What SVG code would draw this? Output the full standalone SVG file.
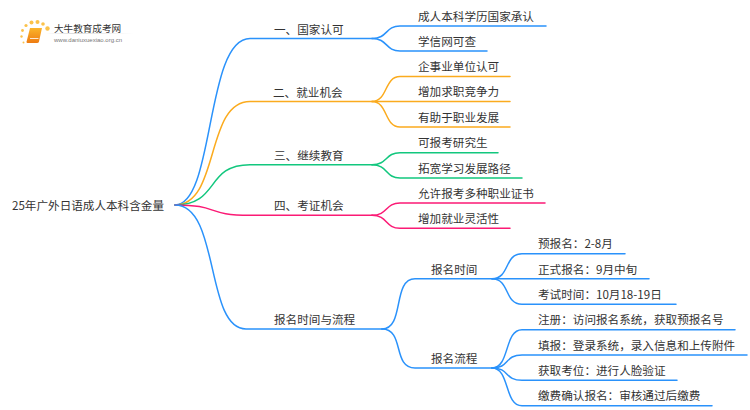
<svg xmlns="http://www.w3.org/2000/svg" width="750" height="410" viewBox="0 0 750 410">
<defs>
<linearGradient id="bk" x1="0" y1="0" x2="0" y2="1"><stop offset="0" stop-color="#fbb52a"/><stop offset="1" stop-color="#ee7b12"/></linearGradient>
<linearGradient id="rule" x1="0" y1="0" x2="1" y2="0"><stop offset="0" stop-color="#ccc" stop-opacity="0"/><stop offset=".3" stop-color="#ccc"/><stop offset="1" stop-color="#ccc" stop-opacity="0"/></linearGradient>
</defs>
<style>
text{font-family:"Noto Sans CJK SC","Noto Sans",sans-serif;font-size:11.6px;fill:#333}
.c{fill:none;stroke-width:1.5;stroke-linecap:round}
.b{stroke:#2a92fb}.o{stroke:#fbab1e}.g{stroke:#12c77e}.p{stroke:#fb1a75}
.d{fill:#fbc24a}
</style>
<rect width="750" height="410" fill="#fff"/>
<g id="logo">
<circle class="d" cx="47.500" cy="28.500" r="2.200"/><circle class="d" cx="43" cy="24" r="1.800"/><circle class="d" cx="37.500" cy="22" r="2"/><circle class="d" cx="31.500" cy="22.500" r="2"/><circle class="d" cx="26" cy="25.500" r="1.600"/><circle class="d" cx="22.500" cy="30.500" r="1.400"/><circle class="d" cx="21.500" cy="36.500" r="1.200"/><circle class="d" cx="23.500" cy="42.500" r="1"/>
<path d="M30 28h12l-3 13.500q-.4 1.500-2 1.500H27.500q-1.200 0-.9-1.500z" fill="url(#bk)"/>
<path d="M30 38.500h8.500" stroke="#fff" stroke-width=".8" fill="none"/>
<text x="54" y="31.500" style="font-size:9.600px">大牛教育成考网</text>
<rect x="46" y="33" width="88" height=".7" fill="url(#rule)"/>
<text x="54" y="41.500" style="font-family:'Liberation Sans',sans-serif;font-size:6px;fill:#777">www.daniuxuexiao.org.cn</text>
</g>
<g id="connectors">
<path class="c b" d="M175 205C215 205 205 38.500 250 38.500H372"/>
<path class="c o" d="M175 205C220 205 205 101.500 250 101.500H372"/>
<path class="c g" d="M175 205C220 205 205 164.700 250 164.700H372"/>
<path class="c p" d="M175 205C220 205 205 215.300 250 215.300H372"/>
<path class="c b" d="M175 205C220 205 205 329 246 329H382"/>
<path class="c b" d="M372 38.500C388 38.500 385 26 400 26H546"/>
<path class="c b" d="M372 38.500C388 38.500 385 51 400 51H487"/>
<path class="c o" d="M372 101.500C388 101.500 384 76.500 400 76.500H510"/>
<path class="c o" d="M372 101.500H510"/>
<path class="c o" d="M372 101.500C388 101.500 384 127 400 127H510"/>
<path class="c g" d="M372 164.700C388 164.700 385 152.700 400 152.700H498"/>
<path class="c g" d="M372 164.700C388 164.700 385 178 400 178H522"/>
<path class="c p" d="M372 215.300C388 215.300 385 203 400 203H545"/>
<path class="c p" d="M372 215.300C388 215.300 385 228.300 400 228.300H510"/>
<path class="c b" d="M382 329C405 329 392 278.800 415 278.800H492"/>
<path class="c b" d="M382 329C405 329 392 368 415 368H492"/>
<path class="c b" d="M492 278.800C510 278.800 504 253.700 522 253.700H625"/>
<path class="c b" d="M492 278.800H649"/>
<path class="c b" d="M492 278.800C510 278.800 504 304.300 522 304.300H676"/>
<path class="c b" d="M492 368C510 368 504 329.700 522 329.700H735"/>
<path class="c b" d="M492 368C510 368 504 355 522 355H747"/>
<path class="c b" d="M492 368C510 368 504 380.300 522 380.300H677"/>
<path class="c b" d="M492 368C510 368 504 405.700 522 405.700H712"/>
</g>
<g id="root"><text x="12" y="210">25年广外日语成人本科含金量</text></g>
<g id="n1"><text x="274" y="33.500">一、国家认可</text></g>
<g id="n2"><text x="273" y="96.500">二、就业机会</text></g>
<g id="n3"><text x="274" y="159.500">三、继续教育</text></g>
<g id="n4"><text x="274" y="210">四、考证机会</text></g>
<g id="n5"><text x="274" y="324">报名时间与流程</text></g>
<g id="n11"><text x="418" y="20.700">成人本科学历国家承认</text></g>
<g id="n12"><text x="418" y="45.700">学信网可查</text></g>
<g id="n21"><text x="418" y="70.700">企事业单位认可</text></g>
<g id="n22"><text x="418" y="96">增加求职竞争力</text></g>
<g id="n23"><text x="418" y="121.700">有助于职业发展</text></g>
<g id="n31"><text x="418" y="147">可报考研究生</text></g>
<g id="n32"><text x="418" y="172.700">拓宽学习发展路径</text></g>
<g id="n41"><text x="418" y="197.700">允许报考多种职业证书</text></g>
<g id="n42"><text x="418" y="223">增加就业灵活性</text></g>
<g id="n51"><text x="431" y="273.500">报名时间</text></g>
<g id="n52"><text x="431" y="362.500">报名流程</text></g>
<g id="n511"><text x="538" y="248">预报名：2-8月</text></g>
<g id="n512"><text x="538" y="273.500">正式报名：9月中旬</text></g>
<g id="n513"><text x="538" y="298.700">考试时间：10月18-19日</text></g>
<g id="n521"><text x="538" y="324">注册：访问报名系统，获取预报名号</text></g>
<g id="n522"><text x="538" y="349.500">填报：登录系统，录入信息和上传附件</text></g>
<g id="n523"><text x="538" y="375">获取考位：进行人脸验证</text></g>
<g id="n524"><text x="538" y="400">缴费确认报名：审核通过后缴费</text></g>
</svg>
